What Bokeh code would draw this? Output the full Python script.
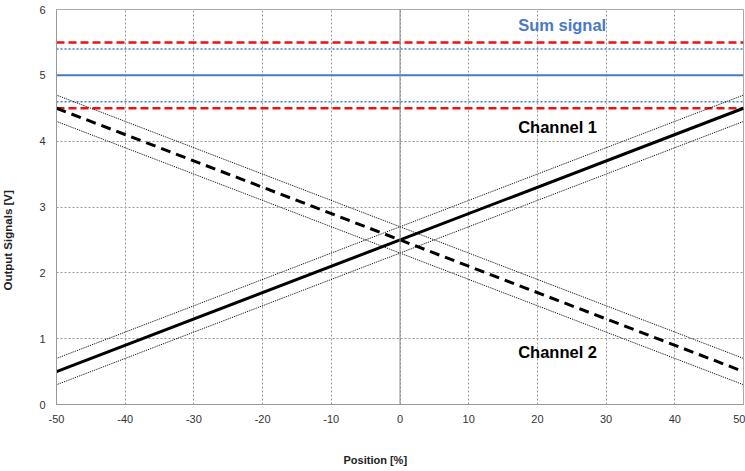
from bokeh.plotting import figure
from bokeh.models import FixedTicker, Span, Label, Range1d, Title
from bokeh.embed import file_html
from bokeh.resources import INLINE

# data
pos = [-50, 50]
ch1 = [0.5, 4.5]
ch1_hi = [0.7, 4.7]
ch1_lo = [0.3, 4.3]
ch2 = [4.5, 0.5]
ch2_hi = [4.7, 0.7]
ch2_lo = [4.3, 0.3]
sum_level = 5.0
sum_tol_inner = [4.6, 5.4]
sum_tol_outer = [4.5, 5.5]
x_ticks = [-50, -40, -30, -20, -10, 0, 10, 20, 30, 40, 50]
y_ticks = [0, 1, 2, 3, 4, 5, 6]

p = figure(width=745, height=471, output_backend="svg", toolbar_location=None,
           x_range=Range1d(-50, 50), y_range=Range1d(0, 6),
           min_border_left=56, min_border_right=2, min_border_top=9, min_border_bottom=67)
p.outline_line_color = "#aaaaaa"
p.outline_line_width = 1

for ax in (p.xaxis, p.yaxis):
    ax.axis_line_color = "#999999"
    ax.major_tick_line_color = None
    ax.minor_tick_line_color = None
    ax.major_label_text_font = "Liberation Sans"
    ax.major_label_text_font_size = "11px"
    ax.major_label_text_color = "#333333"

p.xaxis.ticker = FixedTicker(ticks=x_ticks)
p.yaxis.ticker = FixedTicker(ticks=y_ticks)
p.xaxis.major_label_overrides = {t: str(t) for t in x_ticks}
p.yaxis.major_label_overrides = {t: str(t) for t in y_ticks}
p.xaxis.major_label_standoff = 4
p.yaxis.major_label_standoff = 5

for g in (p.xgrid, p.ygrid):
    g.grid_line_color = "#999999"
    g.grid_line_dash = "2 2"
    g.grid_line_width = 1

p.add_layout(Span(location=0, dimension="height", line_color="#888888", line_width=1))

# sum signal
for v in sum_tol_inner:
    p.line(pos, [v, v], line_color="#4a78c8", line_width=1.5, line_dash="2 2")
p.line(pos, [sum_level, sum_level], line_color="#4a78c8", line_width=2)
for v in sum_tol_outer:
    p.line(pos, [v, v], line_color="#ee1111", line_width=2.5, line_dash="8 4")

# channel bands
for ys in (ch1_hi, ch1_lo, ch2_hi, ch2_lo):
    p.line(pos, ys, line_color="black", line_width=1, line_dash="1 1")
p.line(pos, ch1, line_color="black", line_width=3)
p.line(pos, ch2, line_color="black", line_width=3, line_dash="10 6")

lab_font = "16.5px"
p.add_layout(Label(x=17.2, y=5.77, text="Sum signal", text_color="#4a78c8",
                   text_font="Liberation Sans", text_font_style="bold",
                   text_font_size=lab_font, text_baseline="middle"))
p.add_layout(Label(x=17.2, y=4.21, text="Channel 1", text_color="black",
                   text_font="Liberation Sans", text_font_style="bold",
                   text_font_size=lab_font, text_baseline="middle"))
p.add_layout(Label(x=17.2, y=0.79, text="Channel 2", text_color="black",
                   text_font="Liberation Sans", text_font_style="bold",
                   text_font_size=lab_font, text_baseline="middle"))

# axis titles (with blank spacer panels between axis and title)
p.add_layout(Title(text=" ", standoff=19, text_font_size="1px"), "below")
p.add_layout(Title(text="Position [%]", align="left", offset=287, standoff=9,
                   text_color="#222222", text_font="Liberation Sans",
                   text_font_style="bold", text_font_size="11px"), "below")
p.add_layout(Title(text=" ", standoff=17, text_font_size="1px"), "left")
p.add_layout(Title(text="Output Signals [V]", align="left", offset=114, standoff=2,
                   vertical_align="top",
                   text_color="#222222", text_font="Liberation Sans",
                   text_font_style="bold", text_font_size="11.5px"), "left")

open("out.html", "w").write(file_html(p, INLINE))
